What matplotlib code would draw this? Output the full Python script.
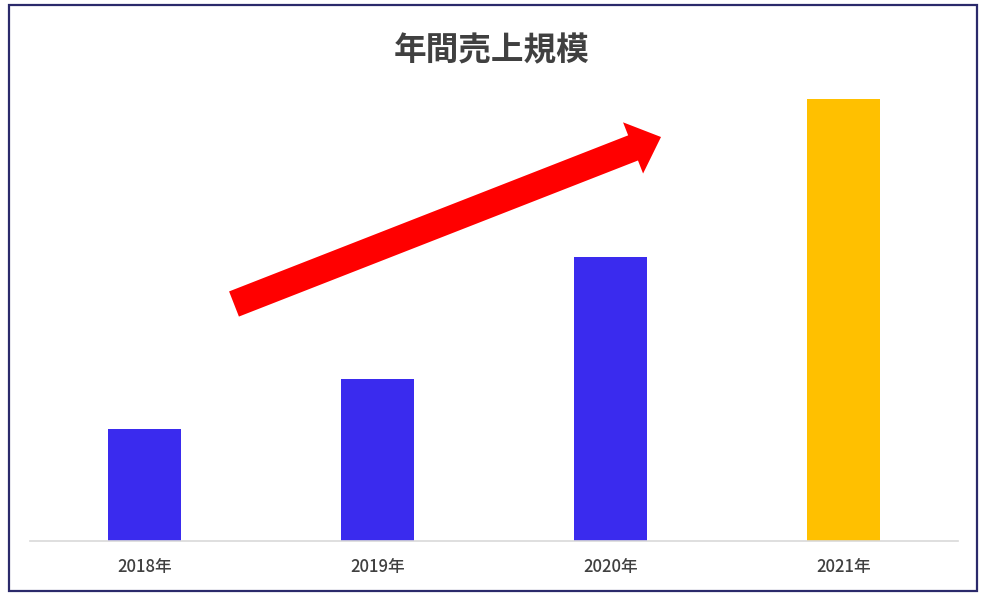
import matplotlib
matplotlib.use("Agg")
import matplotlib.pyplot as plt
from matplotlib.patches import FancyArrow, Rectangle

plt.rcParams["font.family"] = ["Noto Sans CJK JP", "DejaVu Sans"]

# data (relative sales, 2021 = 100)
years = ["2018年", "2019年", "2020年", "2021年"]
sales = [25.3, 36.7, 64.3, 100.0]
bar_colors = ["#3A2BEE", "#3A2BEE", "#3A2BEE", "#FFC000"]
title = "年間売上規模"

W, H = 986, 597
fig = plt.figure(figsize=(W / 100, H / 100), dpi=100)
fig.patch.set_facecolor("white")

# bar axes placed in pixel terms: left 30, right 958, baseline y=541, top y=99
ax = fig.add_axes([30 / W, (H - 541) / H, 928 / W, 442 / H])
x = range(len(years))
ax.bar(x, sales, width=0.313, color=bar_colors, zorder=2)
ax.set_xlim(-0.49, 3.49)
ax.set_ylim(0, 100)
ax.set_xticks(list(x))
ax.set_xticklabels(years, fontsize=12, fontweight="medium", color="#404040")
ax.tick_params(axis="x", length=0, pad=12)
ax.set_yticks([])
for side in ("top", "right", "left"):
    ax.spines[side].set_visible(False)
ax.spines["bottom"].set_color("#D9D9D9")
ax.spines["bottom"].set_linewidth(1.2)

fig.text(492 / W, 1 - 51 / H, title, ha="center", va="center",
         fontsize=23.5, fontweight="bold", color="#404040")

# overlay in pixel coordinates for the trend arrow and frame
ov = fig.add_axes([0, 0, 1, 1], facecolor="none")
ov.set_xlim(0, W)
ov.set_ylim(H, 0)
ov.axis("off")
tail = (234, 304)
tip = (661, 137)
ov.add_patch(FancyArrow(tail[0], tail[1], tip[0] - tail[0], tip[1] - tail[1],
                        width=27, head_width=55, head_length=30,
                        length_includes_head=True, color="#FF0000", lw=0))
ov.add_patch(Rectangle((9, 5), 968, 586, fill=False, edgecolor="#2B2A6B", lw=1.6))

fig.savefig("out.png", dpi=100)
